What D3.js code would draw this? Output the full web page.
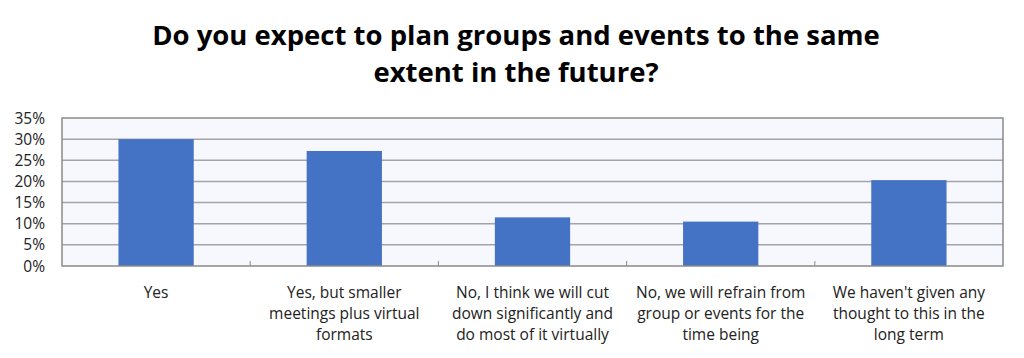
<!DOCTYPE html>
<html><head><meta charset="utf-8">
<script src="https://cdn.jsdelivr.net/npm/d3@7"></script>
<style>body{margin:0;background:#fff}svg{display:block}</style>
</head><body>
<svg id="c" width="1024" height="358"></svg>
<script>
const titleLines = ["Do you expect to plan groups and events to the same", "extent in the future?"];
const categories = ["Yes", "Yes, but smaller meetings plus virtual formats", "No, I think we will cut down significantly and do most of it virtually", "No, we will refrain from group or events for the time being", "We haven't given any thought to this in the long term"];
const categoryLines = [["Yes"], ["Yes, but smaller", "meetings plus virtual", "formats"], ["No, I think we will cut", "down significantly and", "do most of it virtually"], ["No, we will refrain from", "group or events for the", "time being"], ["We haven't given any", "thought to this in the", "long term"]];
const values = [30.0, 27.2, 11.5, 10.5, 20.3];
const yTicks = [0, 5, 10, 15, 20, 25, 30, 35];

const svg = d3.select("#c");
const m = {left: 62, right: 1003, top: 118, bottom: 266};
const x = d3.scaleBand().domain(categories).range([m.left, m.right]).paddingInner(0.6).paddingOuter(0.3);
const xb = d3.scaleBand().domain(categories).range([m.left, m.right]);
const y = d3.scaleLinear().domain([0, 35]).range([m.bottom, m.top]);
const font = "'Open Sans', Carlito, Calibri, sans-serif";

svg.append("rect").attr("x", m.left).attr("y", m.top).attr("width", m.right - m.left).attr("height", m.bottom - m.top).attr("fill", "#f7f8fd");

svg.append("g").selectAll("line").data(yTicks.slice(1, -1)).join("line")
  .attr("x1", m.left).attr("x2", m.right).attr("y1", d => y(d)).attr("y2", d => y(d))
  .attr("stroke", "#a3a3ab").attr("stroke-width", 1.5);

svg.append("g").selectAll("rect").data(values).join("rect")
  .attr("x", (d, i) => x(categories[i])).attr("width", x.bandwidth())
  .attr("y", d => y(d)).attr("height", d => y(0) - y(d)).attr("fill", "#4472c4");

svg.append("rect").attr("x", m.left).attr("y", m.top).attr("width", m.right - m.left).attr("height", m.bottom - m.top).attr("fill", "none").attr("stroke", "#8a8a8a").attr("stroke-width", 1.5);

// category separator ticks
svg.append("g").selectAll("line").data(categories.slice(1)).join("line")
  .attr("x1", d => xb(d)).attr("x2", d => xb(d)).attr("y1", m.bottom - 5).attr("y2", m.bottom)
  .attr("stroke", "#8a8a8a").attr("stroke-width", 1);

// y axis labels
svg.append("g").selectAll("text").data(yTicks).join("text")
  .attr("x", 45).attr("y", d => y(d)).attr("dy", "0.36em").attr("text-anchor", "end")
  .attr("font-family", font).attr("font-size", 15.5).attr("fill", "#222")
  .text(d => d + "%");

// category labels
const cg = svg.append("g");
categoryLines.forEach((lines, i) => {
  const cx = xb(categories[i]) + xb.bandwidth() / 2;
  cg.append("text").attr("text-anchor", "middle").attr("font-family", font).attr("font-size", 15.5).attr("fill", "#222")
    .selectAll("tspan").data(lines).join("tspan")
    .attr("x", cx).attr("y", (d, j) => 298 + j * 21).text(d => d);
});

svg.append("g").selectAll("text").data(titleLines).join("text")
  .attr("x", 516).attr("y", (d, i) => 45 + i * 37).attr("text-anchor", "middle")
  .attr("font-family", font).attr("font-weight", "bold").attr("font-size", 27.5).attr("fill", "#000")
  .text(d => d);
</script>
</body></html>
